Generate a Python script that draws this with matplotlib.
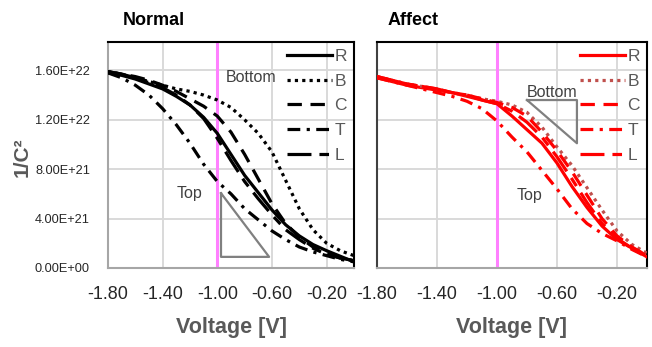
import matplotlib
matplotlib.use('Agg')
import matplotlib.pyplot as plt

plt.rcParams['font.family'] = ['Liberation Sans', 'DejaVu Sans']

# voltage steps (V)
voltage = [-1.8, -1.7, -1.6, -1.5, -1.4, -1.3, -1.2, -1.1, -1.0, -0.9,
           -0.8, -0.7, -0.6, -0.5, -0.4, -0.3, -0.2, -0.1, 0.0]

# 1/C^2 values, in units of 1E+21
normal_R = [15.8, 15.6, 15.3, 14.9, 14.5, 13.9, 13.2, 12.2, 10.9, 9.2,
            7.5, 6.1, 4.7, 3.5, 2.6, 1.9, 1.4, 0.95, 0.5]
normal_B = [15.9, 15.7, 15.4, 15.1, 14.8, 14.5, 14.3, 14.0, 13.6, 13.0,
            12.0, 10.9, 9.4, 7.1, 4.8, 3.1, 2.0, 1.4, 1.0]
normal_C = [15.9, 15.7, 15.5, 15.2, 14.8, 14.3, 13.7, 13.1, 12.3, 11.0,
            9.2, 7.2, 5.2, 3.6, 2.5, 1.7, 1.2, 0.8, 0.6]
normal_T = [15.8, 15.4, 14.8, 14.0, 12.9, 11.6, 10.1, 8.4, 7.0, 6.0,
            4.8, 3.9, 3.0, 2.3, 1.7, 1.3, 1.0, 0.7, 0.5]
normal_L = [15.9, 15.7, 15.4, 15.0, 14.6, 14.0, 13.2, 12.1, 10.5, 8.7,
            7.0, 5.6, 4.3, 3.1, 2.3, 1.6, 1.1, 0.8, 0.6]

affect_R = [15.4, 15.1, 14.8, 14.6, 14.4, 14.2, 13.9, 13.6, 13.3, 12.3,
            11.2, 10.1, 8.5, 6.6, 4.9, 3.4, 2.3, 1.6, 0.9]
affect_B = [15.5, 15.2, 14.9, 14.7, 14.5, 14.2, 14.0, 13.7, 13.5, 13.2,
            12.6, 11.4, 9.8, 8.3, 6.5, 4.7, 3.0, 1.9, 1.2]
affect_C = [15.5, 15.2, 14.9, 14.7, 14.5, 14.2, 14.0, 13.7, 13.4, 13.0,
            12.3, 11.0, 9.5, 7.8, 5.9, 4.0, 2.6, 1.7, 1.0]
affect_T = [15.4, 15.1, 14.8, 14.5, 14.2, 13.9, 13.5, 12.9, 11.9, 10.6,
            9.4, 7.9, 6.4, 4.8, 3.6, 2.8, 2.2, 1.5, 0.9]
affect_L = [15.5, 15.2, 14.9, 14.7, 14.5, 14.2, 14.0, 13.6, 13.3, 12.7,
            11.8, 10.6, 9.0, 7.2, 5.3, 3.6, 2.4, 1.6, 1.0]

labels = ['R', 'B', 'C', 'T', 'L']
dash_styles = ['-', (0, (1, 1.3)), (0, (4.5, 2.7)), (0, (4, 2, 1, 2)), (0, (7.5, 2.5, 3, 2.5))]

x_ticks = [-1.8, -1.4, -1.0, -0.6, -0.2]
y_ticks = [0, 4e21, 8e21, 1.2e22, 1.6e22]

gray_text = '#595959'

fig = plt.figure(figsize=(6.52, 3.47), dpi=100)
ax1 = fig.add_axes([0.1656, 0.2277, 0.3773, 0.6513])
ax2 = fig.add_axes([0.5782, 0.2277, 0.4141, 0.6513])


def setup(ax, series, colors, show_y):
    for vals, lab, ls, col in zip(series, labels, dash_styles, colors):
        ax.plot(voltage, [v * 1e21 for v in vals], color=col, linestyle=ls,
                linewidth=2.3, label=lab, zorder=3)
    ax.axvline(-1.0, color='#FF80FF', linewidth=2.2, zorder=2)
    ax.set_xlim(-1.8, 0.0)
    ax.set_ylim(0, 1.83e22)
    ax.set_xticks(x_ticks)
    ax.set_xticklabels(['%.2f' % t for t in x_ticks], fontsize=13, color='#262626')
    ax.set_yticks(y_ticks)
    if show_y:
        ax.set_yticklabels(['%.2E' % t for t in y_ticks], fontsize=9.2, color='#262626')
    else:
        ax.set_yticklabels([])
    ax.tick_params(length=0)
    ax.tick_params(axis='x', pad=13)
    ax.tick_params(axis='y', pad=13)
    ax.grid(True, color='#D9D9D9', linewidth=1.4, zorder=0)
    ax.set_axisbelow(True)
    for s in ['top', 'right']:
        ax.spines[s].set_color('black')
        ax.spines[s].set_linewidth(1.5)
    ax.spines['bottom'].set_color('#A6A6A6')
    ax.spines['bottom'].set_linewidth(1.5)
    ax.spines['left'].set_color('#A6A6A6' if show_y else '#404040')
    ax.spines['left'].set_linewidth(1.5)
    ax.legend(loc='upper right', bbox_to_anchor=(1.0, 1.0), frameon=False,
              fontsize=12.5, handlelength=2.6, handletextpad=0.15,
              labelspacing=0.55, borderaxespad=0.2, borderpad=0.2,
              labelcolor=gray_text)


setup(ax1, [normal_R, normal_B, normal_C, normal_T, normal_L], ['black'] * 5, True)
setup(ax2, [affect_R, affect_B, affect_C, affect_T, affect_L],
      ['#FF0000', '#C0504D', '#FF0000', '#FF0000', '#FF0000'], False)

# triangles and annotations
ax1.plot([-0.973, -0.973, -0.621, -0.973], [6.06e21, 0.9e21, 0.9e21, 6.06e21],
         color='#808080', linewidth=1.6, zorder=2)
ax1.text(-0.936, 15.4e21, 'Bottom', fontsize=11.5, color='#404040', va='center')
ax1.text(-1.295, 6.0e21, 'Top', fontsize=11.5, color='#404040', va='center')

ax2.plot([-0.8, -0.467, -0.467, -0.8], [13.6e21, 13.6e21, 10.1e21, 13.6e21],
         color='#808080', linewidth=1.6, zorder=2)
ax2.text(-0.8, 14.2e21, 'Bottom', fontsize=11.5, color='#404040', va='center')
ax2.text(-0.867, 5.9e21, 'Top', fontsize=11.5, color='#404040', va='center')

fig.text(0.189, 0.942, 'Normal', fontsize=13, fontweight='bold', va='center')
fig.text(0.594, 0.942, 'Affect', fontsize=13, fontweight='bold', va='center')

fig.text(22 / 652, 1 - 157 / 347, '1/C²', rotation=90, ha='center', va='center',
         fontsize=15, fontweight='bold', color=gray_text)
fig.text(232 / 652, 1 - 327 / 347, 'Voltage [V]', ha='center', va='center',
         fontsize=15.5, fontweight='bold', color=gray_text)
fig.text(511 / 652, 1 - 327 / 347, 'Voltage [V]', ha='center', va='center',
         fontsize=15.5, fontweight='bold', color=gray_text)

fig.savefig('out.png', dpi=100)
